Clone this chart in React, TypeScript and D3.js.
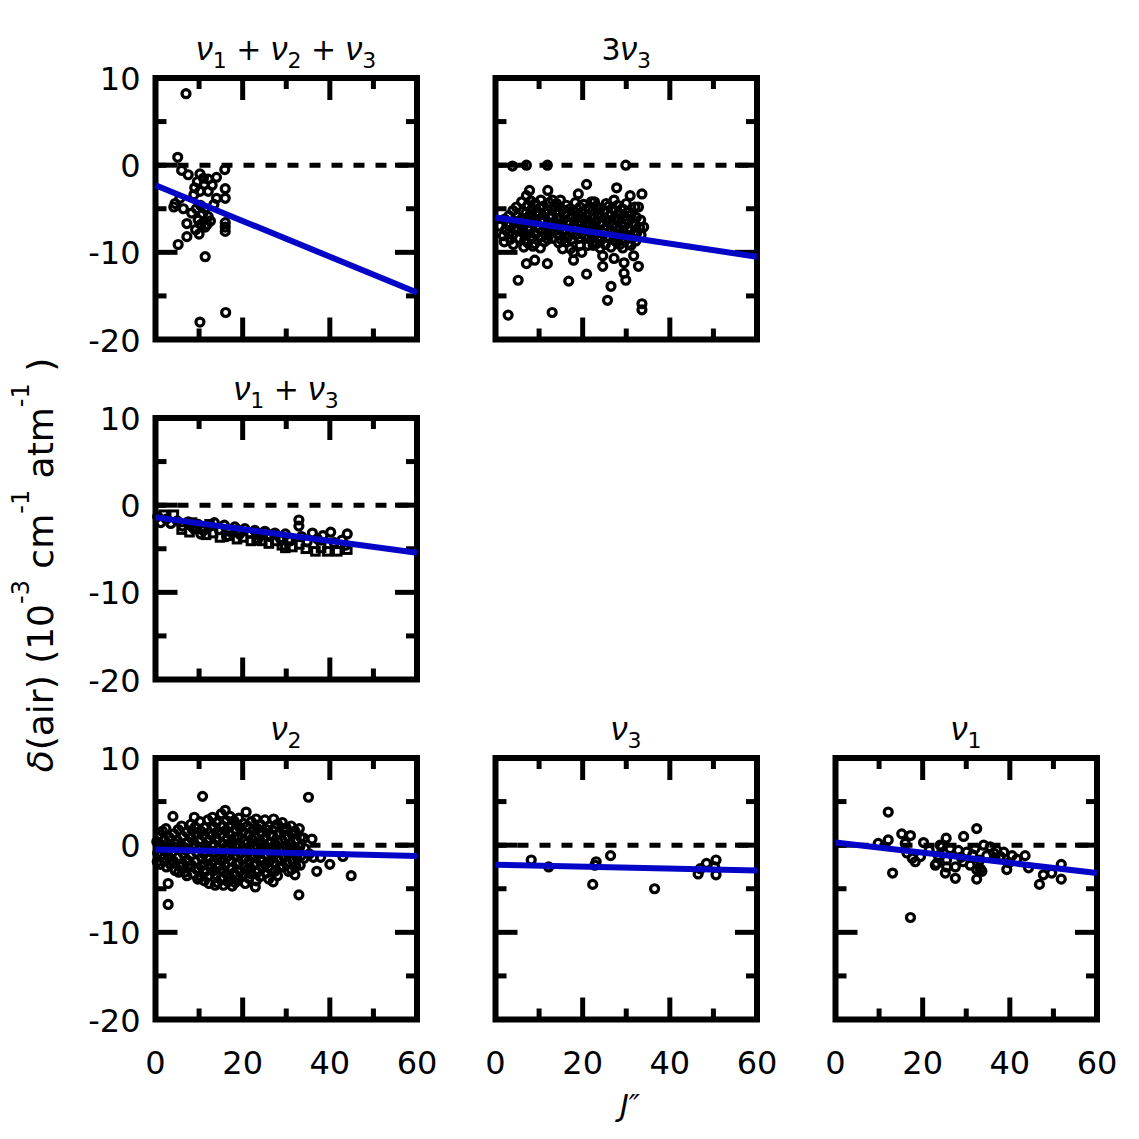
import { useEffect, useRef } from 'react';
import * as d3 from 'd3';

type Pt = [number, number];

// axis ticks shared by every panel
const xMajor = [0, 20, 40, 60];
const xMinor = [10, 30, 50];
const yMajor = [-20, -10, 0, 10];
const yMinor = [-15, -5, 5];

// fitted lines: value at J=0 and J=60
const fitV1V2V3: Pt = [-2.3, -14.6];
const fit3V3: Pt = [-6.0, -10.5];
const fitV1V3: Pt = [-1.4, -5.45];
const fitV2: Pt = [-0.5, -1.25];
const fitV3: Pt = [-2.25, -2.9];
const fitV1: Pt = [0.3, -3.2];

const v1v2v3Pts: Pt[] = [
  [7.0, 8.2], [5.1, 0.9], [6.0, -0.6], [15.9, -0.5], [7.5, -1.1], [10.2, -1.0], [12.1, -1.6],
  [14.0, -1.4], [9.6, -1.9], [11.2, -2.2], [13.0, -2.3], [16.0, -2.7], [10.2, -3.0], [12.1, -3.0],
  [8.8, -3.4], [14.0, -3.8], [16.0, -3.8], [4.5, -4.4], [5.6, -3.8], [4.2, -4.8], [6.4, -5.0],
  [11.4, -5.0], [8.3, -5.5], [10.3, -4.6], [12.1, -5.9], [9.8, -6.3], [11.4, -7.1], [10.4, -6.8],
  [12.6, -6.4], [9.2, -7.4], [16.0, -7.1], [16.0, -7.6], [16.0, -6.6], [7.2, -6.7], [7.2, -8.2],
  [5.2, -9.1], [11.4, -10.5], [16.1, -16.9], [10.2, -18.0], [13.4, -4.5], [9.0, -2.6], [11.0, -1.5],
  [10.8, -5.6], [9.4, -5.0], [11.8, -6.8], [10.0, -7.9],
];

const threeV3Pts: Pt[] = [
  [1.0, -7.0], [1.8, -8.1], [2.1, -6.2], [2.3, -7.4], [2.0, -8.8], [2.9, -17.2],
  [3.1, -5.8], [3.3, -6.9], [3.0, -7.8], [3.4, -8.5], [2.6, -6.7],
  [3.9, -0.1], [4.0, -5.2], [4.2, -6.4], [4.4, -7.2], [3.9, -8.0], [4.1, -9.1], [4.8, -4.8],
  [5.0, -5.9], [5.4, -6.6], [5.1, -7.5], [5.5, -8.4], [5.2, -13.2],
  [6.0, -4.2], [6.3, -5.3], [6.1, -6.1], [6.4, -6.9], [6.2, -7.7], [6.7, -8.6], [6.5, -9.4],
  [7.1, 0.0], [7.1, -3.5], [7.4, -4.6], [7.0, -5.5], [7.3, -6.4], [7.5, -7.1], [7.2, -8.0], [7.4, -8.9], [7.1, -11.3],
  [7.8, -2.9], [8.1, -4.1], [8.4, -5.0], [8.2, -5.8], [8.5, -6.7], [8.0, -7.4], [8.3, -8.3], [8.6, -9.3],
  [9.0, -9.0], [9.1, -4.4], [9.3, -5.4], [9.0, -6.2], [9.4, -7.0], [9.2, -7.9], [9.0, -10.9],
  [10.4, -4.0], [10.2, -4.9], [10.0, -5.7], [10.4, -6.5], [10.1, -7.3], [10.5, -8.2], [10.3, -9.5],
  [11.0, -4.7], [11.4, -5.5], [11.1, -6.3], [11.3, -7.1], [11.5, -8.0], [11.2, -8.8],
  [11.9, 0.0], [12.0, -2.9], [12.3, -4.3], [12.1, -5.2], [12.4, -6.0], [12.2, -6.8], [12.5, -7.6], [12.0, -8.5], [11.9, -11.3],
  [13.0, -16.9], [13.1, -4.0], [13.4, -4.9], [13.0, -5.8], [13.3, -6.6], [13.5, -7.5], [13.2, -8.4],
  [14.0, -4.4], [14.3, -5.3], [14.1, -6.2], [14.4, -7.0], [14.2, -7.9], [14.5, -8.9],
  [14.9, -4.0], [15.4, -5.1], [15.0, -6.0], [15.3, -6.8], [15.5, -7.7], [15.2, -8.6], [15.4, -9.6],
  [16.0, -8.8], [16.3, -4.6], [16.1, -5.6], [16.4, -6.5], [16.2, -7.4], [16.5, -8.3], [16.8, -13.3],
  [17.1, -5.0], [17.4, -5.9], [17.0, -6.8], [17.3, -7.6], [17.5, -8.5], [17.2, -9.6],
  [17.9, -10.0], [17.9, -10.9], [18.3, -4.3], [18.1, -5.3], [18.4, -6.2], [18.2, -7.1], [18.5, -8.0],
  [19.0, -3.3], [19.4, -4.8], [19.0, -5.7], [19.3, -6.6], [19.5, -7.5], [19.2, -8.4], [19.4, -9.2],
  [19.8, -10.0], [20.2, -4.5], [20.0, -5.4], [20.4, -6.3], [20.1, -7.2], [20.5, -8.1],
  [20.9, -2.2], [21.3, -8.4], [21.4, -4.9], [21.0, -5.8], [21.3, -6.7], [21.5, -7.6], [21.2, -9.2], [20.9, -12.5],
  [22.4, -9.2], [22.0, -4.2], [22.3, -5.2], [22.1, -6.1], [22.4, -7.0], [22.2, -7.9], [22.5, -8.8], [22.7, -4.2],
  [23.1, -4.7], [23.4, -5.6], [23.0, -6.5], [23.3, -7.4], [23.5, -8.3], [23.2, -9.0],
  [24.0, -5.0], [24.3, -5.9], [24.1, -6.8], [24.4, -7.7], [24.2, -8.6], [24.6, -10.4], [24.0, -9.5],
  [25.0, -7.3], [25.4, -4.4], [25.0, -5.3], [25.3, -6.2], [25.5, -8.2], [25.2, -9.1], [24.6, -11.6], [25.7, -15.5],
  [26.0, -4.7], [26.3, -5.7], [26.1, -6.6], [26.4, -7.5], [26.2, -8.4], [26.5, -9.4], [26.5, -13.9],
  [27.2, -4.0], [27.1, -5.1], [27.4, -6.0], [27.0, -6.9], [27.3, -7.8], [27.5, -8.7], [27.2, -10.7],
  [27.8, -2.6], [28.1, -8.4], [28.0, -4.6], [28.3, -5.5], [28.1, -6.4], [28.4, -7.3], [28.2, -8.2], [28.5, -9.1],
  [29.1, -5.0], [29.4, -5.9], [29.0, -6.8], [29.3, -7.7], [29.5, -8.6], [29.2, -9.5], [29.5, -11.2], [29.5, -12.4],
  [29.9, 0.0], [30.0, -4.4], [30.3, -5.4], [30.1, -6.3], [30.4, -7.2], [30.2, -8.1], [30.5, -9.0], [29.9, -13.2],
  [30.9, -3.5], [31.1, -5.7], [31.4, -6.6], [31.0, -7.5], [31.3, -8.4], [31.1, -9.2], [31.7, -10.4],
  [32.0, -4.8], [32.3, -6.0], [32.1, -6.9], [32.4, -7.8], [32.2, -8.7], [32.8, -11.6],
  [33.6, -3.3], [32.8, -4.8], [33.3, -6.3], [33.1, -7.2], [33.4, -8.0], [33.6, -15.9], [33.6, -16.6], [34.0, -7.1],
];

const v1v3Circles: Pt[] = [
  [0.5, -1.3], [1.2, -2.0], [2.5, -1.6], [3.5, -2.1], [5.0, -1.8], [6.2, -2.4], [7.5, -1.9],
  [8.6, -2.6], [9.8, -2.2], [11.0, -2.9], [12.2, -2.5], [13.5, -2.0], [14.6, -2.8], [15.8, -2.3],
  [17.0, -3.0], [18.2, -2.5], [19.3, -3.3], [20.5, -2.7], [21.6, -3.2], [22.8, -2.9], [24.0, -3.5],
  [25.1, -3.0], [26.3, -3.6], [27.4, -3.2], [28.6, -3.8], [29.8, -3.3], [31.0, -4.1], [32.9, -1.7],
  [32.9, -2.4], [33.5, -3.6], [34.8, -4.2], [36.0, -3.2], [37.2, -3.9], [38.4, -3.5], [40.2, -3.1],
  [41.0, -4.3], [42.8, -4.0], [44.0, -3.3], [43.6, -4.6], [10.4, -3.3], [16.3, -3.6], [23.4, -4.0],
];

const v1v3Squares: Pt[] = [
  [1.9, -1.1], [4.2, -1.1], [6.0, -2.8], [7.8, -3.1], [9.3, -2.7], [11.6, -3.4], [13.2, -3.2],
  [14.8, -3.7], [16.9, -3.5], [18.7, -3.9], [20.1, -3.7], [21.9, -4.1], [23.2, -3.8], [24.5, -4.1],
  [26.0, -4.4], [27.5, -4.1], [29.0, -4.6], [29.8, -4.9], [31.4, -4.8], [33.0, -4.5], [34.5, -5.0],
  [36.7, -5.3], [38.0, -4.9], [39.4, -5.3], [41.7, -5.3], [44.0, -5.1], [12.4, -2.2], [8.4, -2.0],
  [19.0, -2.9], [25.6, -3.4], [30.5, -3.9],
];

const v2Pts: Pt[] = [
  [0.3, 0.4], [0.5, -0.9], [0.4, -1.9], [0.8, 1.2], [1.2, 0.1], [1.4, -1.1], [1.1, -2.2], [1.6, 1.6],
  [2.1, 0.6], [2.3, -0.4], [2.0, -1.5], [2.5, -2.5], [2.4, 1.9], [2.9, -4.4], [2.9, -6.8], [3.1, 0.9],
  [3.3, -0.2], [3.0, -1.3], [3.4, -2.2], [4.0, 3.3], [4.2, 1.3], [4.4, 0.2], [3.9, -0.8], [4.1, -1.8],
  [4.5, -2.9], [5.2, 1.8], [5.0, 0.6], [5.4, -0.5], [5.1, -1.4], [5.5, -2.4], [5.3, -3.1],
  [6.0, 2.2], [6.3, 1.0], [6.1, -0.1], [6.4, -1.0], [6.2, -2.1], [6.7, -3.1],
  [7.1, 1.5], [7.4, 0.4], [7.0, -0.6], [7.3, -1.7], [7.5, -2.6], [7.2, -3.5],
  [8.9, 3.2], [8.1, 2.4], [8.4, 1.7], [8.2, 0.8], [8.5, -0.3], [8.0, -1.2], [8.3, -2.3], [8.6, -3.3],
  [9.1, 2.1], [9.3, 1.2], [9.0, 0.1], [9.4, -0.8], [9.2, -1.9], [9.5, -2.8], [9.7, -3.9],
  [10.0, -3.8], [10.2, 2.7], [10.4, 1.6], [10.1, 0.6], [10.3, -0.4], [10.6, -1.5], [10.5, -2.4], [10.3, -3.5],
  [10.8, 5.6], [11.2, 2.0], [11.0, 1.1], [11.4, 0.0], [11.1, -1.0], [11.3, -2.1], [11.5, -3.0], [11.2, -4.1],
  [12.0, 2.9], [12.3, 1.4], [12.1, 0.5], [12.4, -0.6], [12.2, -1.6], [12.5, -2.5], [12.0, -3.6], [12.3, -4.4],
  [13.1, 3.2], [13.4, 2.1], [13.0, 1.1], [13.3, 0.1], [13.5, -0.9], [13.2, -1.9], [13.4, -2.9], [13.7, -4.6],
  [14.0, 2.6], [14.3, 1.6], [14.1, 0.6], [14.4, -0.4], [14.2, -1.5], [14.5, -2.4], [14.0, -3.4], [14.3, -4.3],
  [15.1, 3.6], [15.4, 2.2], [15.0, 1.2], [15.3, 0.2], [15.5, -0.8], [15.2, -1.8], [15.4, -2.8], [15.1, -3.8], [15.6, -4.6],
  [16.0, 4.0], [16.3, 2.8], [16.1, 1.7], [16.4, 0.7], [16.2, -0.3], [16.5, -1.3], [16.0, -2.3], [16.3, -3.3], [16.6, -4.2],
  [17.1, 3.3], [17.4, 2.3], [17.0, 1.3], [17.3, 0.3], [17.5, -0.7], [17.2, -1.7], [17.4, -2.7], [17.1, -3.7], [17.6, -4.7],
  [18.0, 2.8], [18.3, 1.8], [18.1, 0.8], [18.4, -0.2], [18.2, -1.2], [18.5, -2.2], [18.0, -3.2], [18.3, -4.3],
  [19.1, 3.1], [19.4, 2.0], [19.0, 1.0], [19.3, 0.0], [19.5, -1.0], [19.2, -2.0], [19.4, -3.0], [19.1, -3.9],
  [20.8, 3.8], [20.2, 2.5], [20.0, 1.5], [20.4, 0.5], [20.1, -0.5], [20.5, -1.5], [20.3, -2.5], [20.0, -3.5], [20.6, -4.4],
  [21.1, 2.2], [21.4, 1.2], [21.0, 0.2], [21.3, -0.8], [21.5, -1.8], [21.2, -2.8], [21.4, -3.8],
  [22.0, 2.7], [22.3, 1.7], [22.1, 0.7], [22.4, -0.3], [22.2, -1.3], [22.5, -2.3], [22.0, -3.3], [22.9, -4.8],
  [23.1, 3.0], [23.4, 1.9], [23.0, 0.9], [23.3, -0.1], [23.5, -1.1], [23.2, -2.1], [23.4, -3.1], [23.1, -4.1],
  [24.0, 2.4], [24.3, 1.4], [24.1, 0.4], [24.4, -0.6], [24.2, -1.6], [24.5, -2.6], [24.0, -3.6],
  [25.1, 2.9], [25.4, 1.8], [25.0, 0.8], [25.3, -0.2], [25.5, -1.2], [25.2, -2.2], [25.4, -3.2],
  [26.0, 2.2], [26.3, 1.2], [26.1, 0.2], [26.4, -0.8], [26.2, -1.8], [26.5, -2.8], [26.0, -3.9],
  [27.1, 3.0], [27.4, 2.0], [27.0, 1.0], [27.3, 0.0], [27.5, -1.0], [27.2, -2.0], [27.4, -3.0], [27.0, -4.2],
  [28.0, 2.4], [28.3, 1.4], [28.1, 0.4], [28.4, -0.6], [28.2, -1.6], [28.5, -2.6], [28.0, -3.5],
  [29.1, 2.6], [29.4, 1.6], [29.0, 0.6], [29.3, -0.4], [29.5, -1.4], [29.2, -2.4],
  [30.0, 2.0], [30.3, 1.0], [30.1, 0.0], [30.4, -1.0], [30.2, -2.0], [30.5, -3.0],
  [31.1, 2.2], [31.4, 1.2], [31.0, 0.2], [31.3, -0.8], [31.5, -1.8], [31.2, -2.8],
  [32.0, 1.6], [32.3, 0.6], [32.1, -0.4], [32.4, -1.4], [32.2, -2.4], [32.0, -3.4],
  [33.0, 1.9], [33.3, 0.9], [33.1, -0.2], [33.4, -1.2], [33.2, -2.3], [32.9, -5.7],
  [34.0, 0.8], [34.3, -0.4], [34.1, -1.5], [35.1, 5.5], [35.9, 0.7], [35.3, -1.0],
  [36.2, -1.4], [37.0, -3.0], [37.9, -1.4], [40.0, -2.2], [43.0, -1.3], [44.9, -3.5],
];

const v3Pts: Pt[] = [
  [8.2, -1.7], [12.2, -2.5], [23.1, -1.9], [26.4, -1.2], [22.3, -4.5], [36.5, -5.0], [46.5, -3.3],
  [48.4, -2.1], [50.6, -1.7], [50.6, -3.4], [50.3, -2.5], [47.0, -2.7], [22.8, -2.3],
];

const v1Pts: Pt[] = [
  [12.1, 3.8], [12.1, 0.6], [15.2, 1.3], [17.2, 1.1], [13.1, -3.2], [17.2, -8.3], [32.4, 1.9],
  [29.4, 1.0], [25.4, 0.8], [20.2, 0.3], [16.0, 0.2], [16.4, -0.9], [18.3, -1.9], [17.6, -1.5],
  [19.5, -1.3], [22.9, -2.3], [25.2, -3.2], [27.5, -3.8], [27.5, -2.5], [32.4, -3.9], [32.4, -2.8],
  [33.2, -2.7], [39.3, -2.8], [43.5, -1.2], [44.3, -2.6], [47.7, -3.4], [46.8, -4.5], [49.6, -3.2],
  [51.8, -2.2], [51.8, -3.9], [24.4, -0.2], [26.3, -0.4], [28.2, -0.6], [30.1, -0.8], [32.0, -0.4],
  [34.0, 0.0], [35.5, -0.2], [37.0, -0.6], [38.6, -0.8], [40.5, -1.2], [34.7, -1.2], [36.6, -1.5],
  [33.1, -1.7], [29.3, -1.9], [25.5, -1.7], [23.6, -1.2], [30.9, -2.3], [33.6, -3.0], [25.5, -2.5],
  [23.2, -2.1], [24.0, 0.0], [36.3, -0.9], [37.8, -1.3], [9.8, 0.2], [21.5, -0.6], [28.8, -1.4],
  [31.5, -1.1], [39.8, -2.0], [41.6, -1.6],
];

const panels = [
  { title: 'ν1 + ν2 + ν3', col: 0, row: 0, circles: v1v2v3Pts, squares: [] as Pt[], fit: fitV1V2V3 },
  { title: '3ν3', col: 1, row: 0, circles: threeV3Pts, squares: [] as Pt[], fit: fit3V3 },
  { title: 'ν1 + ν3', col: 0, row: 1, circles: v1v3Circles, squares: v1v3Squares, fit: fitV1V3 },
  { title: 'ν2', col: 0, row: 2, circles: v2Pts, squares: [] as Pt[], fit: fitV2 },
  { title: 'ν3', col: 1, row: 2, circles: v3Pts, squares: [] as Pt[], fit: fitV3 },
  { title: 'ν1', col: 2, row: 2, circles: v1Pts, squares: [] as Pt[], fit: fitV1 },
];

const FONT = '"DejaVu Sans", Verdana, sans-serif';
const NU_FONT = '"Liberation Sans", Arial, sans-serif';
const BLUE = '#0505c8';

export default function App() {
  const svgRef = useRef<SVGSVGElement>(null);

  useEffect(() => {
    document.body.style.margin = '0';
    if (!svgRef.current) return;
    const svg = d3.select(svgRef.current);
    svg.selectAll('*').remove();

    const size = 261.5;
    const left0 = 155.5;
    const top0 = 78;
    const step = 340;

    panels.forEach(p => {
      const left = left0 + p.col * step;
      const top = top0 + p.row * step;
      const x = d3.scaleLinear().domain([0, 60]).range([left, left + size]);
      const y = d3.scaleLinear().domain([-20, 10]).range([top + size, top]);
      const g = svg.append('g');

      // ticks, inward on all four sides
      const tick = (x1: number, y1: number, x2: number, y2: number) =>
        g.append('line')
          .attr('x1', x1).attr('y1', y1).attr('x2', x2).attr('y2', y2)
          .attr('stroke', '#000').attr('stroke-width', 5);
      xMajor.forEach(v => { tick(x(v), top + size, x(v), top + size - 22); tick(x(v), top, x(v), top + 22); });
      xMinor.forEach(v => { tick(x(v), top + size, x(v), top + size - 11); tick(x(v), top, x(v), top + 11); });
      yMajor.forEach(v => { tick(left, y(v), left + 22, y(v)); tick(left + size, y(v), left + size - 22, y(v)); });
      yMinor.forEach(v => { tick(left, y(v), left + 11, y(v)); tick(left + size, y(v), left + size - 11, y(v)); });

      g.append('rect')
        .attr('x', left).attr('y', top)
        .attr('width', size).attr('height', size)
        .attr('fill', 'none').attr('stroke', '#000').attr('stroke-width', 6);

      // dashed zero line
      g.append('line')
        .attr('x1', x(0)).attr('x2', x(60))
        .attr('y1', y(0)).attr('y2', y(0))
        .attr('stroke', '#000').attr('stroke-width', 5)
        .attr('stroke-dasharray', '11,11');

      g.selectAll('.sq')
        .data(p.squares)
        .enter()
        .append('rect')
        .attr('x', d => x(d[0]) - 3.8)
        .attr('y', d => y(d[1]) - 3.8)
        .attr('width', 7.6).attr('height', 7.6)
        .attr('fill', 'none').attr('stroke', '#000').attr('stroke-width', 3);

      g.selectAll('.pt')
        .data(p.circles)
        .enter()
        .append('circle')
        .attr('cx', d => x(d[0]))
        .attr('cy', d => y(d[1]))
        .attr('r', 4)
        .attr('fill', 'none').attr('stroke', '#000').attr('stroke-width', 3.2);

      const line = d3.line<[number, number]>().x(d => x(d[0])).y(d => y(d[1]));
      g.append('path')
        .attr('d', line([[0, p.fit[0]], [60, p.fit[1]]]))
        .attr('stroke', BLUE).attr('stroke-width', 6).attr('fill', 'none');

      if (p.col === 0) {
        g.selectAll('.ylab')
          .data(yMajor)
          .enter()
          .append('text')
          .attr('x', left - 15)
          .attr('y', d => y(d) + 12)
          .attr('text-anchor', 'end')
          .style('font-family', FONT)
          .style('font-size', '32px')
          .text(d => String(d));
      }
      if (p.row === 2) {
        g.selectAll('.xlab')
          .data(xMajor)
          .enter()
          .append('text')
          .attr('x', d => x(d))
          .attr('y', top + size + 54)
          .attr('text-anchor', 'middle')
          .style('font-family', FONT)
          .style('font-size', '32px')
          .text(d => String(d));
      }

      // title with italic nu and subscripts
      const t = g.append('text')
        .attr('x', left + size / 2)
        .attr('y', top - 18)
        .attr('text-anchor', 'middle')
        .style('font-family', FONT)
        .style('font-size', '30px')
        .style('white-space', 'pre');
      const chars = Array.from(p.title);
      let shift = 0;
      chars.forEach((c, i) => {
        if (/\d/.test(c) && chars[i - 1] === 'ν') {
          t.append('tspan').attr('dy', 8 - shift).style('font-size', '22px').text(c);
          shift = 8;
          return;
        }
        const s = t.append('tspan').attr('dy', -shift).text(c);
        if (c === 'ν') s.style('font-style', 'italic').style('font-family', NU_FONT).style('font-size', '33px');
        shift = 0;
      });
    });

    // y axis label
    const yl = svg.append('text')
      .attr('transform', 'translate(53,565) rotate(-90)')
      .attr('text-anchor', 'middle')
      .style('font-family', FONT)
      .style('font-size', '36px')
      .style('white-space', 'pre');
    yl.append('tspan').style('font-style', 'italic').text('δ');
    yl.append('tspan').text('(air) (10');
    yl.append('tspan').attr('dy', -24).style('font-size', '24px').text('-3');
    yl.append('tspan').attr('dy', 24).text(' cm');
    yl.append('tspan').attr('dy', -24).style('font-size', '24px').text('-1');
    yl.append('tspan').attr('dy', 24).text(' atm');
    yl.append('tspan').attr('dy', -24).style('font-size', '24px').text('-1');
    yl.append('tspan').attr('dy', 24).text(' )');

    // x axis label
    svg.append('text')
      .attr('x', 630)
      .attr('y', 1116)
      .attr('text-anchor', 'middle')
      .style('font-family', FONT)
      .style('font-size', '30px')
      .style('font-style', 'italic')
      .text('J″');
  }, []);

  return <svg ref={svgRef} width={1139} height={1139} style={{ display: 'block', background: '#fff' }} />;
}
